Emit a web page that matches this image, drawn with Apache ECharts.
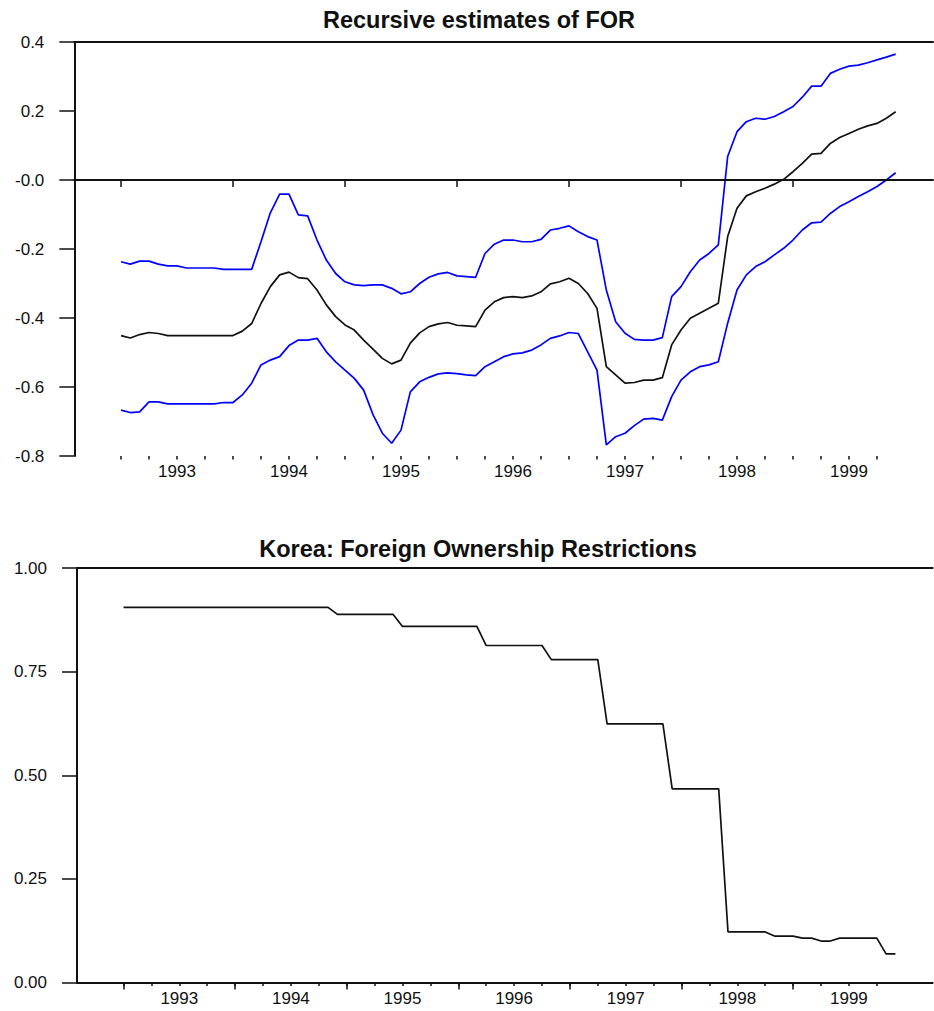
<!DOCTYPE html>
<html><head><meta charset="utf-8">
<script src="https://cdn.jsdelivr.net/npm/echarts@6/dist/echarts.min.js"></script>
<style>html,body{margin:0;padding:0;background:#fff}#c{width:934px;height:1011px}</style>
</head><body><div id="c"></div>
<script>
// ---- data (monthly, Jan 1993 .. Dec 1999) ----
const firstYear = 1993, lastYear = 1999;
const months = [];
for (let y = firstYear; y <= lastYear; y++) for (let m = 1; m <= 12; m++) months.push(y + '-' + String(m).padStart(2, '0'));

const upperBand = [
 -0.237,-0.244,-0.235,-0.235,-0.244,-0.249,-0.249,-0.255,-0.255,-0.255,-0.255,-0.259,
 -0.259,-0.259,-0.259,-0.179,-0.095,-0.041,-0.041,-0.101,-0.104,-0.174,-0.232,-0.271,
 -0.295,-0.304,-0.306,-0.304,-0.304,-0.314,-0.330,-0.324,-0.300,-0.282,-0.272,-0.268,
 -0.278,-0.280,-0.282,-0.213,-0.186,-0.174,-0.174,-0.179,-0.179,-0.172,-0.145,-0.140,
 -0.133,-0.150,-0.164,-0.174,-0.319,-0.411,-0.444,-0.462,-0.464,-0.464,-0.457,-0.338,
 -0.309,-0.266,-0.232,-0.213,-0.188, 0.068, 0.140, 0.169, 0.179, 0.176, 0.184, 0.198,
  0.213, 0.240, 0.272, 0.272, 0.309, 0.321, 0.330, 0.333, 0.340, 0.348, 0.356, 0.365
];
const estimate = [
 -0.451,-0.458,-0.448,-0.442,-0.445,-0.451,-0.451,-0.451,-0.451,-0.451,-0.451,-0.451,
 -0.451,-0.438,-0.416,-0.358,-0.309,-0.275,-0.267,-0.283,-0.286,-0.319,-0.362,-0.396,
 -0.420,-0.435,-0.464,-0.490,-0.517,-0.533,-0.522,-0.473,-0.443,-0.425,-0.417,-0.413,
 -0.421,-0.423,-0.425,-0.377,-0.353,-0.341,-0.338,-0.341,-0.336,-0.324,-0.301,-0.295,
 -0.285,-0.300,-0.329,-0.372,-0.541,-0.565,-0.589,-0.587,-0.580,-0.580,-0.573,-0.478,
 -0.435,-0.401,-0.386,-0.372,-0.357,-0.164,-0.082,-0.046,-0.034,-0.024,-0.012, 0.002,
  0.024, 0.048, 0.075, 0.077, 0.106, 0.123, 0.135, 0.147, 0.157, 0.164, 0.179, 0.198
];
const lowerBand = [
 -0.667,-0.674,-0.672,-0.643,-0.643,-0.649,-0.649,-0.649,-0.649,-0.649,-0.649,-0.645,
 -0.645,-0.623,-0.589,-0.536,-0.522,-0.512,-0.480,-0.464,-0.464,-0.459,-0.498,-0.527,
 -0.551,-0.575,-0.609,-0.680,-0.734,-0.763,-0.725,-0.614,-0.585,-0.572,-0.562,-0.559,
 -0.561,-0.565,-0.567,-0.541,-0.527,-0.512,-0.504,-0.501,-0.493,-0.478,-0.459,-0.452,
 -0.442,-0.445,-0.498,-0.551,-0.768,-0.744,-0.734,-0.712,-0.693,-0.691,-0.696,-0.628,
 -0.580,-0.556,-0.541,-0.536,-0.527,-0.415,-0.319,-0.275,-0.251,-0.237,-0.217,-0.198,
 -0.174,-0.145,-0.124,-0.122,-0.097,-0.077,-0.063,-0.048,-0.034,-0.019, 0.000, 0.021
];
const restrictions = [
 0.905,0.905,0.905,0.905,0.905,0.905,0.905,0.905,0.905,0.905,0.905,0.905,
 0.905,0.905,0.905,0.905,0.905,0.905,0.905,0.905,0.905,0.905,0.905,0.888,
 0.888,0.888,0.888,0.888,0.888,0.888,0.859,0.859,0.859,0.859,0.859,0.859,
 0.859,0.859,0.859,0.813,0.813,0.813,0.813,0.813,0.813,0.813,0.779,0.779,
 0.779,0.779,0.779,0.779,0.624,0.624,0.624,0.624,0.624,0.624,0.624,0.467,
 0.467,0.467,0.467,0.467,0.467,0.122,0.122,0.122,0.122,0.122,0.112,0.112,
 0.112,0.107,0.107,0.100,0.100,0.107,0.107,0.107,0.107,0.107,0.069,0.069
];
const topTicks = [-0.8, 0.4, 0.2];      // min, max, interval
const bottomTicks = [0, 1, 0.25];
const titleTop = 'Recursive estimates of FOR';
const titleBottom = 'Korea: Foreign Ownership Restrictions';

// ---- axis categories (Aug 1992 .. Apr 2000) ----
const axisMonths = [];
for (let y = 1992; y <= 2000; y++) for (let m = 1; m <= 12; m++) {
  if ((y === 1992 && m < 8) || (y === 2000 && m > 4)) continue;
  axisMonths.push(y + '-' + String(m).padStart(2, '0'));
}
const ym = v => [+v.slice(0, 4), +v.slice(5, 7)];
const inRange = v => { const [y, m] = ym(v); return y >= firstYear && (y < lastYear || (y === lastYear && m <= 10)); };
const isQuarter = (i, v) => inRange(v) && [1, 4, 7, 10].includes(ym(v)[1]);
const isYear = (i, v) => inRange(v) && ym(v)[1] === 1;
const isMid = (i, v) => inRange(v) && ym(v)[1] === 7;

const FONT = 'Liberation Sans';
const INK = '#111';

function xAxes(gridIndex) {
  return [
    { type: 'category', gridIndex, data: axisMonths, boundaryGap: false, position: 'bottom',
      axisLine: { show: true, lineStyle: { color: INK, width: 2 } },
      axisTick: { show: true, interval: isYear, length: 7, lineStyle: { color: INK, width: 1.5 } },
      axisLabel: { show: true, interval: isMid, formatter: v => v.slice(0, 4), margin: 7,
                   fontFamily: FONT, fontSize: 17, color: INK },
      splitLine: { show: false } },
    { type: 'category', gridIndex, data: axisMonths, boundaryGap: false, position: 'bottom',
      axisLine: { show: false },
      axisTick: { show: true, interval: isQuarter, length: 3.5, lineStyle: { color: INK, width: 1.5 } },
      axisLabel: { show: false }, splitLine: { show: false } },
    { type: 'category', gridIndex, data: axisMonths, boundaryGap: false, position: 'top',
      axisLine: { show: true, lineStyle: { color: INK, width: 2 } },
      axisTick: { show: false }, axisLabel: { show: false }, splitLine: { show: false } }
  ];
}
function yAxis(gridIndex, t, fmt) {
  return { type: 'value', gridIndex, min: t[0], max: t[1], interval: t[2],
    axisLine: { show: true, lineStyle: { color: INK, width: 2 } },
    axisTick: { show: true, length: 15, lineStyle: { color: INK, width: 1.5 } },
    axisLabel: { formatter: fmt, margin: 30, fontFamily: FONT, fontSize: 17, color: INK },
    splitLine: { show: false } };
}
const pairs = arr => months.map((m, i) => [m, arr[i]]);
const lineSeries = (name, arr, color, xi, yi, extra) => Object.assign({
  name, type: 'line', data: pairs(arr), xAxisIndex: xi, yAxisIndex: yi,
  showSymbol: false, symbol: 'none', smooth: false,
  lineStyle: { color, width: 1.7 }, itemStyle: { color }, z: 3
}, extra || {});

const chart = echarts.init(document.getElementById('c'), null, { renderer: 'svg' });
chart.setOption({
  animation: false,
  backgroundColor: '#fff',
  grid: [
    { left: 74.33, right: 1, top: 42, height: 414 },
    { left: 77, right: 1.4, top: 568, height: 414.5 }
  ],
  xAxis: [...xAxes(0), ...xAxes(1)],
  yAxis: [
    yAxis(0, topTicks, v => (Math.abs(v) < 1e-9 ? '-0.0' : v.toFixed(1))),
    yAxis(1, bottomTicks, v => v.toFixed(2))
  ],
  graphic: [
    { type: 'text', x: 479, y: 20, style: { text: titleTop, font: 'bold 23.5px "' + FONT + '"', fill: INK, align: 'center', verticalAlign: 'middle' } },
    { type: 'text', x: 478, y: 549, style: { text: titleBottom, font: 'bold 23.5px "' + FONT + '"', fill: INK, align: 'center', verticalAlign: 'middle' } }
  ],
  series: [
    lineSeries('Upper band', upperBand, '#0000ff', 0, 0),
    lineSeries('Lower band', lowerBand, '#0000ff', 0, 0),
    lineSeries('Estimate', estimate, INK, 0, 0, {
      markLine: { silent: true, symbol: 'none', label: { show: false },
        lineStyle: { color: INK, type: 'solid', width: 2 }, data: [{ yAxis: 0 }] } }),
    lineSeries('Restrictions', restrictions, INK, 3, 1)
  ]
});
</script>
</body></html>
